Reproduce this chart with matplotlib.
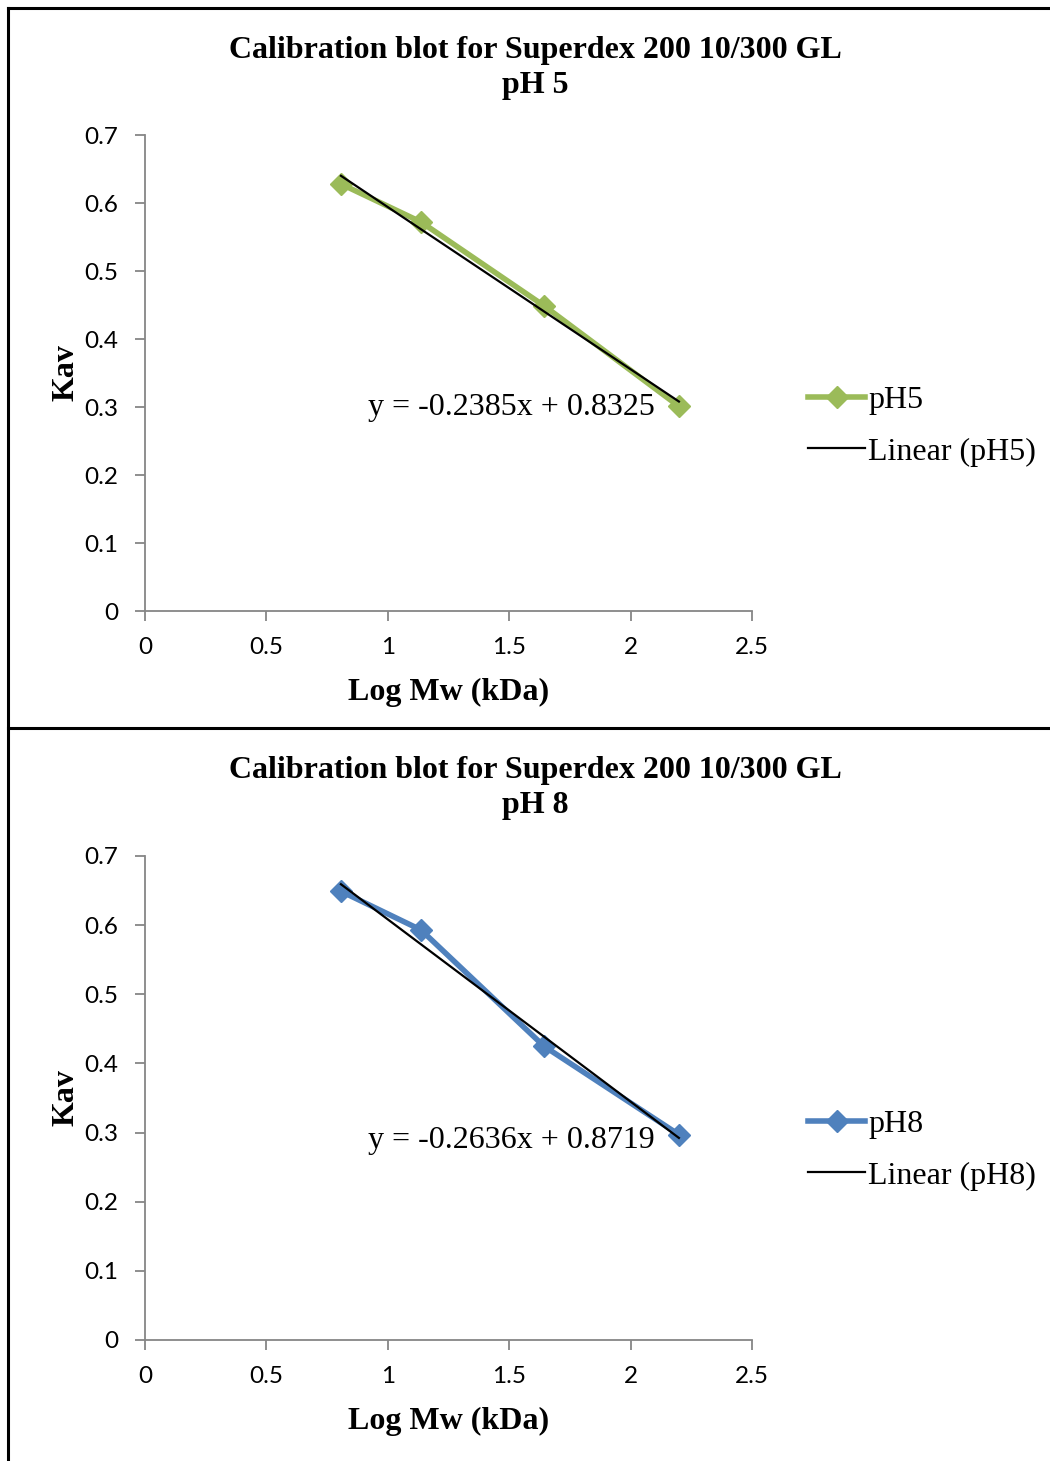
import matplotlib
matplotlib.use("Agg")
import matplotlib.pyplot as plt
from matplotlib.lines import Line2D
import numpy as np

W, H = 1050, 1461

# data
log_mw = [0.807, 1.137, 1.643, 2.199]
kav_ph5 = [0.628, 0.572, 0.449, 0.301]
kav_ph8 = [0.649, 0.593, 0.425, 0.297]
fit_ph5 = (-0.2385, 0.8325)
fit_ph8 = (-0.2636, 0.8719)
eq_ph5 = "y = -0.2385x + 0.8325"
eq_ph8 = "y = -0.2636x + 0.8719"
x_ticks = [0, 0.5, 1, 1.5, 2, 2.5]
y_ticks = [0, 0.1, 0.2, 0.3, 0.4, 0.5, 0.6, 0.7]

GREEN = "#9BBB59"
BLUE = "#4F81BD"
GRAY = "#868686"
SERIF = "Liberation Serif"
SANS = "Lato"

fig = plt.figure(figsize=(W / 100, H / 100), dpi=100)


def px_axes(x0, y0, x1, y1):
    # pixel box -> figure fraction
    return fig.add_axes([x0 / W, 1 - y1 / H, (x1 - x0) / W, (y1 - y0) / H])


def panel(ax, kav, fit, color, name, eq, eq_y, title, title_y, leg_y):
    ax.plot(log_mw, kav, color=color, lw=4, marker="D", ms=11, zorder=2,
            solid_joinstyle="miter")
    xs = np.array([min(log_mw), max(log_mw)])
    ax.plot(xs, fit[0] * xs + fit[1], color="black", lw=1.6, zorder=3)
    ax.set_xlim(0, 2.5)
    ax.set_ylim(0, 0.7)
    ax.set_xticks(x_ticks)
    ax.set_xticklabels([f"{v:g}" for v in x_ticks])
    ax.set_yticks(y_ticks)
    ax.set_yticklabels([f"{v:g}" for v in y_ticks])
    for s in ["top", "right"]:
        ax.spines[s].set_visible(False)
    for s in ["left", "bottom"]:
        ax.spines[s].set_color(GRAY)
        ax.spines[s].set_linewidth(1.3)
    ax.tick_params(direction="out", length=7, width=1.3, color=GRAY,
                   labelsize=17.5)
    ax.yaxis.set_tick_params(pad=12)
    ax.xaxis.set_tick_params(pad=12)
    for lab in ax.get_xticklabels() + ax.get_yticklabels():
        lab.set_family(SANS)
    ax.set_xlabel("Log Mw (kDa)", family=SERIF, weight="bold", fontsize=23,
                  labelpad=14)
    ax.set_ylabel("Kav", family=SERIF, weight="bold", fontsize=23, labelpad=3)
    ax.text(1.51, eq_y, eq, family=SERIF, fontsize=23, ha="center",
            va="center")
    fig.text(535 / W, 1 - title_y / H, title, family=SERIF, weight="bold",
             fontsize=23, ha="center", va="center", linespacing=1.3)
    handles = [Line2D([], [], color=color, lw=4, marker="D", ms=11),
               Line2D([], [], color="black", lw=1.6)]
    fig.legend(handles, [name, f"Linear ({name})"],
               loc="center left", bbox_to_anchor=(795 / W, 1 - leg_y / H),
               frameon=False, prop={"family": SERIF, "size": 23},
               handlelength=1.8, handletextpad=0.1, labelspacing=0.7,
               borderaxespad=0)


ax1 = px_axes(145, 135, 752, 611)
panel(ax1, kav_ph5, fit_ph5, GREEN, "pH5", eq_ph5, 0.3,
      "Calibration blot for Superdex 200 10/300 GL\npH 5", 68, 426)

ax2 = px_axes(145, 856, 752, 1340)
panel(ax2, kav_ph8, fit_ph8, BLUE, "pH8", eq_ph8, 0.288,
      "Calibration blot for Superdex 200 10/300 GL\npH 8", 788, 1150)

# chart area borders
for (x0, y0, x1, y1) in [(8, 8, W, 8), (8, 8, 8, H), (8, 728, W, 728)]:
    fig.add_artist(Line2D([x0 / W, x1 / W], [1 - y0 / H, 1 - y1 / H],
                          color="black", lw=2.2))

fig.savefig("out.png", dpi=100)
